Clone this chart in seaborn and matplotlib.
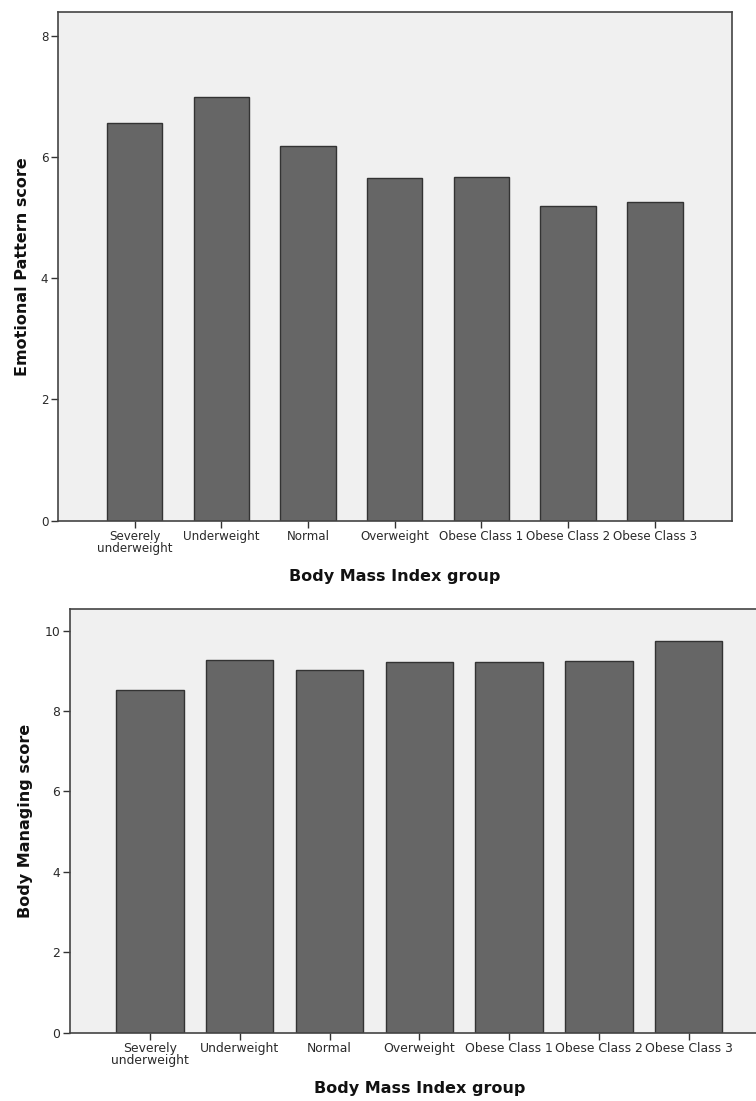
import matplotlib
matplotlib.use("Agg")
import matplotlib.pyplot as plt
import seaborn as sns
import pandas as pd

sns.set_style("white")
plt.rcParams['font.family'] = ['DejaVu Sans']

# dados
grupos = ["Severely\nunderweight", "Underweight", "Normal", "Overweight",
          "Obese Class 1", "Obese Class 2", "Obese Class 3"]
emocional = [6.57, 7.00, 6.18, 5.65, 5.68, 5.19, 5.26]
corpo = [8.52, 9.26, 9.02, 9.21, 9.22, 9.24, 9.73]

df_emo = pd.DataFrame({"grupo": grupos, "score": emocional})
df_corpo = pd.DataFrame({"grupo": grupos, "score": corpo})

fig = plt.figure(figsize=(7.56, 11.01), dpi=100)
ax1 = fig.add_axes([0.0767, 0.5272, 0.8915, 0.4619])
ax2 = fig.add_axes([0.0922, 0.0620, 0.925, 0.3846])


def desenhar(ax, df, largura, ylim, yticks, ylabel, xlim, tamanho):
    ax.set_facecolor("#f0f0f0")
    sns.barplot(data=df, x="grupo", y="score", color="#666666", width=largura,
                edgecolor="#333333", linewidth=1.0, saturation=1, ax=ax)
    ax.set_xlim(*xlim)
    ax.set_ylim(*ylim)
    ax.set_yticks(yticks)
    ax.set_xlabel("Body Mass Index group", fontsize=11.5, fontweight="bold",
                  labelpad=10, color="#111111")
    ax.set_ylabel(ylabel, fontsize=11.5, fontweight="bold", labelpad=8,
                  color="#111111")
    ax.tick_params(axis="both", direction="out", length=5, width=1,
                   color="#333333", labelsize=tamanho, labelcolor="#2a2a2a", pad=2)
    ax.tick_params(axis="x", bottom=True)
    ax.tick_params(axis="y", left=True)
    for lbl in ax.get_xticklabels():
        lbl.set_linespacing(0.85)
    for s in ax.spines.values():
        s.set_color("#444444")
        s.set_linewidth(1.2)


desenhar(ax1, df_emo, 0.64, (0, 8.4), [0, 2, 4, 6, 8],
         "Emotional Pattern score", (-0.885, 6.89), 8.6)
desenhar(ax2, df_corpo, 0.75, (0, 10.53), [0, 2, 4, 6, 8, 10],
         "Body Managing score", (-0.894, 6.894), 8.9)

fig.savefig("out.png", dpi=100)
